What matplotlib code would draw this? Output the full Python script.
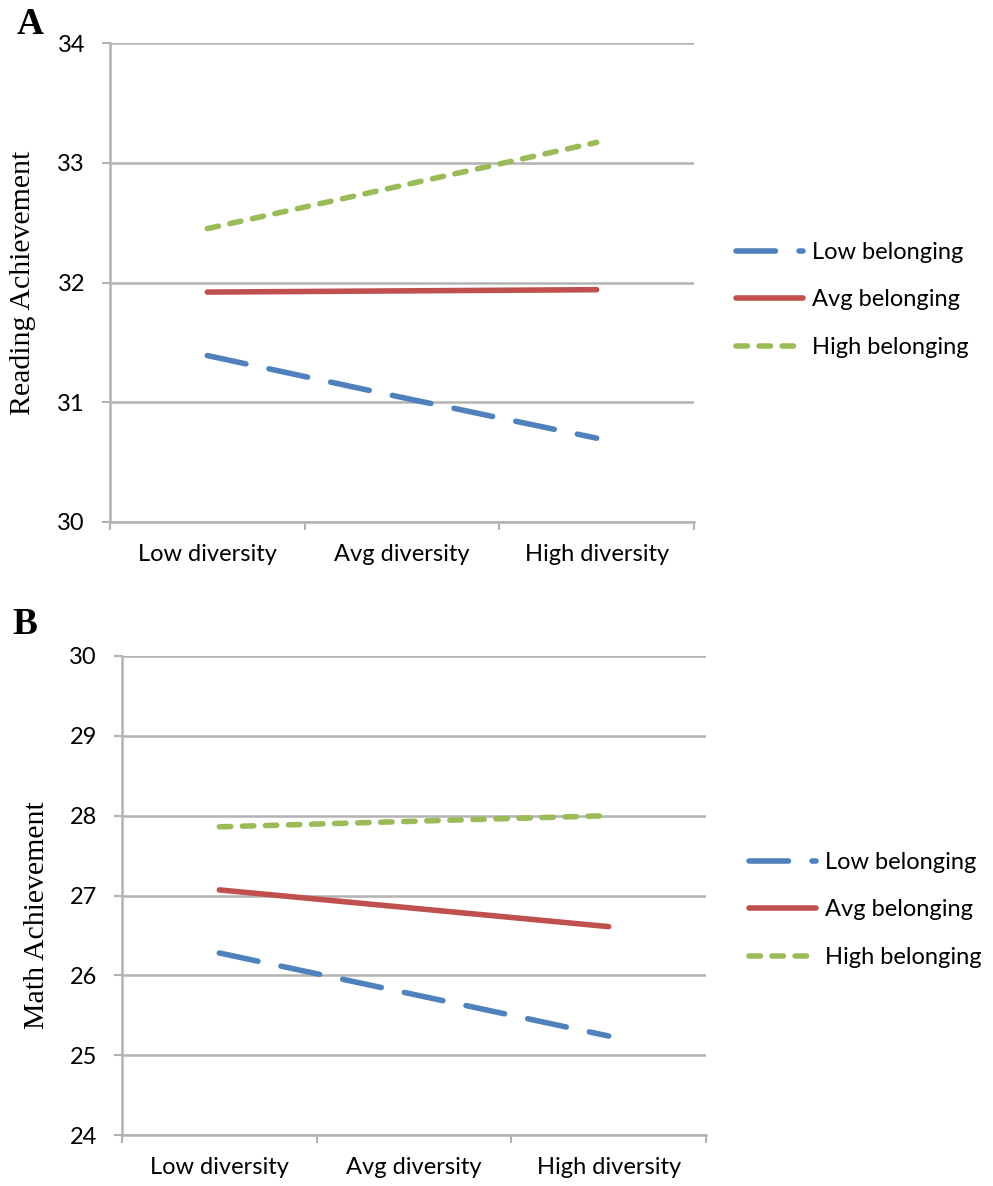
import matplotlib
matplotlib.use("Agg")
import matplotlib.pyplot as plt
import numpy as np

# ---- data ----
categories = ["Low diversity", "Avg diversity", "High diversity"]
series_names = ["Low belonging", "Avg belonging", "High belonging"]

reading_low = [31.39, 31.04, 30.70]
reading_avg = [31.92, 31.93, 31.94]
reading_high = [32.45, 32.81, 33.17]

math_low = [26.28, 25.76, 25.24]
math_avg = [27.07, 26.84, 26.61]
math_high = [27.86, 27.93, 28.00]

reading_ticks = [30, 31, 32, 33, 34]
math_ticks = [24, 25, 26, 27, 28, 29, 30]

COLORS = ["#4F81BD", "#C0504D", "#9BBB59"]
DASHES = [(7.1, 4.25), None, (2.05, 2.1)]
GRID = "#b3b3b3"
SANS = "Lato"
SERIF = "Liberation Serif"
W, H = 993, 1186


def px_box(left, top, right, bottom):
    return [left / W, 1 - bottom / H, (right - left) / W, (bottom - top) / H]


def draw_panel(ax, values, yticks, legend_xy):
    x = np.arange(len(categories))
    for vals, name, col, dash in zip(values, series_names, COLORS, DASHES):
        line, = ax.plot(x, vals, color=col, lw=4.0, label=name,
                        solid_capstyle="round", dash_capstyle="round")
        if dash is not None:
            line.set_dashes(dash)
    ax.set_xlim(-0.5, len(categories) - 0.5)
    ax.set_ylim(yticks[0], yticks[-1])
    ax.set_yticks(yticks)
    ax.set_yticklabels([str(t) for t in yticks], fontsize=17, family=SANS)
    ax.set_xticks(np.arange(-0.5, len(categories)))
    ax.set_xticklabels([])
    ax.set_xticks(x, minor=True)
    ax.set_xticklabels(categories, minor=True, fontsize=17, family=SANS)
    ax.tick_params(axis="x", which="minor", length=0, pad=16)
    ax.tick_params(axis="both", which="major", length=6, width=1.5, color=GRID,
                   direction="out")
    ax.tick_params(axis="y", pad=12)
    ax.grid(axis="y", color=GRID, lw=1.8)
    ax.set_axisbelow(True)
    for s in ["top", "right"]:
        ax.spines[s].set_visible(False)
    for s in ["left", "bottom"]:
        ax.spines[s].set_color(GRID)
        ax.spines[s].set_linewidth(1.8)
    ax.legend(loc="center left", bbox_to_anchor=legend_xy,
              bbox_transform=ax.figure.transFigure, frameon=False,
              prop={"family": SANS, "size": 17}, handlelength=2.85,
              handletextpad=0.35, labelspacing=1.12, borderpad=0, borderaxespad=0)


fig = plt.figure(figsize=(W / 100, H / 100), dpi=100)
ax_a = fig.add_axes(px_box(110, 43, 694, 522))
ax_b = fig.add_axes(px_box(122, 656, 706, 1135))

draw_panel(ax_a, [reading_low, reading_avg, reading_high], reading_ticks,
           (736 / W, 1 - 300 / H))
draw_panel(ax_b, [math_low, math_avg, math_high], math_ticks,
           (749 / W, 1 - 910 / H))

fig.text(23 / W, 1 - 283 / H, "Reading Achievement", rotation=90, ha="center",
         va="center", family=SERIF, fontsize=21.5)
fig.text(37 / W, 1 - 915 / H, "Math Achievement", rotation=90, ha="center",
         va="center", family=SERIF, fontsize=21.5)
fig.text(30 / W, 1 - 25 / H, "A", ha="center", va="center", family=SERIF,
         fontweight="bold", fontsize=27)
fig.text(25 / W, 1 - 625 / H, "B", ha="center", va="center", family=SERIF,
         fontweight="bold", fontsize=27)

fig.savefig("out.png", dpi=100)
